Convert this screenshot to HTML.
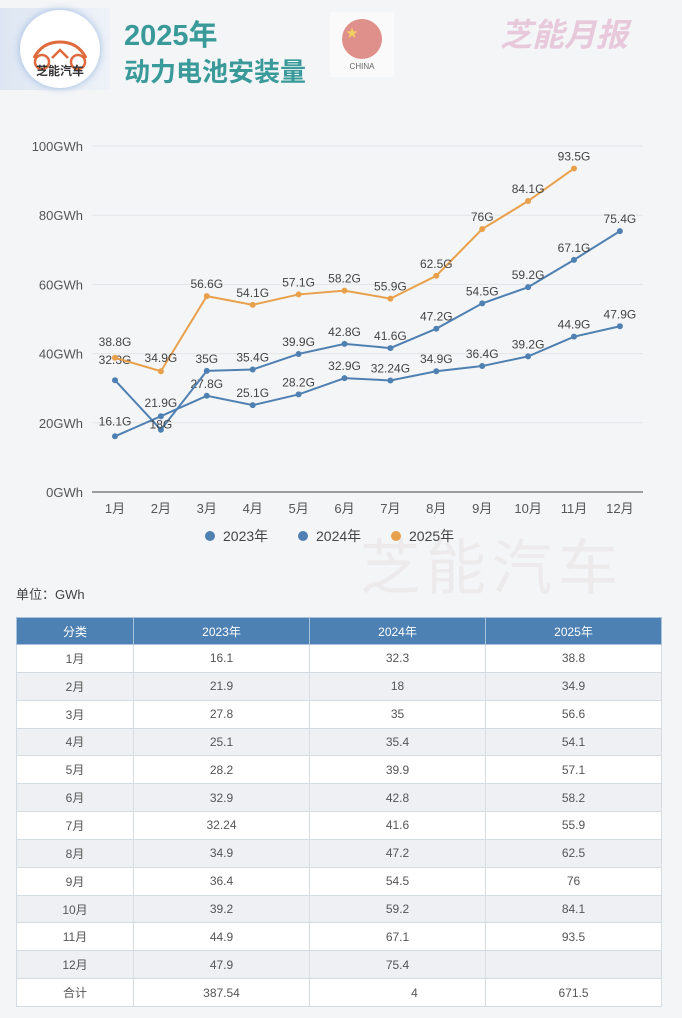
<!DOCTYPE html>
<html><head><meta charset="utf-8"><style>
body{margin:0;width:682px;height:1018px;background:#f4f5f7;font-family:"Liberation Sans","Noto Sans CJK SC",sans-serif;position:relative;overflow:hidden}
.abs{position:absolute}
table{border-collapse:collapse;table-layout:fixed;position:absolute;left:16px;top:617px;width:645px;font-size:12px;color:#555}
td,th{border:1px solid #d5dbe3;text-align:center;height:26.85px;padding:0}
th{background:#4d80b3;color:#fff;font-weight:normal;height:26px;border-color:#a9c3df}
tr:nth-child(even) td{background:#eef0f4}
tr:nth-child(odd) td{background:#fff}
</style></head><body>
<div class="abs" style="left:0;top:8px;width:110px;height:82px;background:linear-gradient(90deg,#dde6f2,#eef2f8)"></div>
<div class="abs" style="left:20px;top:10px;width:80px;height:78px;border-radius:50%;background:#fff;box-shadow:0 0 8px #9bb8df">
<svg width="80" height="50" style="position:absolute;left:0;top:18px"><path d="M14 30 Q22 14 40 14 Q58 14 66 30" stroke="#e06a3c" stroke-width="3" fill="none"/><circle cx="22" cy="34" r="7" stroke="#e06a3c" stroke-width="2.5" fill="none"/><circle cx="58" cy="34" r="7" stroke="#e06a3c" stroke-width="2.5" fill="none"/><path d="M32 30 L40 22 L48 30" stroke="#e06a3c" stroke-width="2.5" fill="none"/></svg>
<div style="position:absolute;top:52px;width:80px;text-align:center;font-size:12px;font-weight:bold;color:#333">芝能汽车</div></div>
<div class="abs" style="left:124px;top:12px;font-size:29px;font-weight:bold;color:#3a9a9a">2025年</div>
<div class="abs" style="left:124px;top:52px;font-size:26px;font-weight:bold;color:#3a9a9a">动力电池安装量</div>
<div class="abs" style="left:330px;top:12px;width:64px;height:65px;background:#fafafa"><div style="position:absolute;left:12px;top:7px;width:40px;height:40px;border-radius:50%;background:#e0908a"></div><div style="position:absolute;left:16px;top:12px;color:#f2d060;font-size:12px">★</div><div style="position:absolute;top:50px;width:64px;text-align:center;font-size:8px;color:#666">CHINA</div></div>
<div class="abs" style="left:500px;top:10px;font-size:32px;font-weight:bold;font-style:italic;color:#e8c9dc">芝能月报</div>
<div class="abs" style="left:360px;top:520px;font-size:60px;color:#eceaea;letter-spacing:6px">芝能汽车</div>
<svg class="abs" style="left:0;top:0" width="682" height="580" id="chart"></svg>
<div class="abs" style="left:16px;top:584px;font-size:13px;color:#444">单位：GWh</div>
<table><thead><tr><th style="width:116px">分类</th><th style="width:175px">2023年</th><th style="width:175px">2024年</th><th style="width:175px">2025年</th></tr></thead><tbody id="tb"></tbody></table>
<script>
const months=["1月","2月","3月","4月","5月","6月","7月","8月","9月","10月","11月","12月"];
const s2023=[16.1,21.9,27.8,25.1,28.2,32.9,32.24,34.9,36.4,39.2,44.9,47.9];
const s2024=[32.3,18,35,35.4,39.9,42.8,41.6,47.2,54.5,59.2,67.1,75.4];
const s2025=[38.8,34.9,56.6,54.1,57.1,58.2,55.9,62.5,76,84.1,93.5];
const totals=["387.54","4","671.5"];
const yTicks=[0,20,40,60,80,100];
const NS="http://www.w3.org/2000/svg";
const svg=document.getElementById('chart');
const X=i=>115+i*45.9, Y=v=>492-v*3.46;
function mk(t,a,txt){const e=document.createElementNS(NS,t);for(const k in a)e.setAttribute(k,a[k]);if(txt!=null)e.textContent=txt;svg.appendChild(e);return e;}
yTicks.forEach(t=>{
const g=mk('line',{x1:92,x2:643,y1:Y(t),y2:Y(t),stroke:t?'#e3e5e8':'#444','stroke-width':1});

const l=mk('text',{x:83,y:Y(t)+5,'text-anchor':'end','font-size':13,fill:'#555'},t+'GWh');
});
months.forEach((m,i)=>{const l=mk('text',{x:X(i),y:513,'text-anchor':'middle','font-size':13,fill:'#555'},m);
});
function series(d,c,name,offs){
const p=mk('polyline',{points:d.map((v,i)=>X(i)+','+Y(v)).join(' '),fill:'none',stroke:c,'stroke-width':2});

d.forEach((v,i)=>{const c1=mk('circle',{cx:X(i),cy:Y(v),r:3,fill:c});

const t=mk('text',{x:X(i),y:Y(v)+(offs[i]||-8),'text-anchor':'middle','font-size':12,fill:'#444'},v+'G');
});}
series(s2023,'#4f80b2','s2023',{0:-11,1:-9});
series(s2024,'#4f80b2','s2024',{0:-16,1:-1});
series(s2025,'#e8a04a','s2025',{0:-12,1:-9});
[["2023年",210,'#4f80b2'],["2024年",303,'#4f80b2'],["2025年",396,'#e8a04a']].forEach(([n,x,c])=>{
const ci=mk('circle',{cx:x,cy:536,r:5,fill:c});
const t=mk('text',{x:x+13,y:541,'font-size':14,fill:'#444'},n);});
const tb=document.getElementById('tb');
months.forEach((m,i)=>{const r=document.createElement('tr');


r.innerHTML=`<td>${m}</td><td>${s2023[i]}</td><td>${s2024[i]}</td><td>${s2025[i]??''}</td>`;tb.appendChild(r);});
const r=document.createElement('tr');


r.innerHTML=`<td>合计</td><td>${totals[0]}</td><td><span style="padding-left:34px">${totals[1]}</span></td><td>${totals[2]}</td>`;tb.appendChild(r);
</script>
</body></html>
